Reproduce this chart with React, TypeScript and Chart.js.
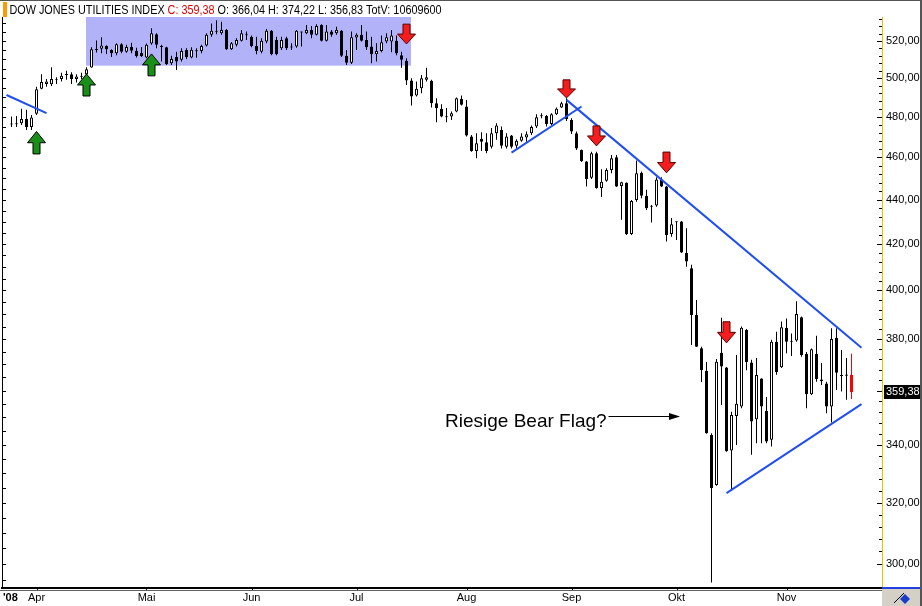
import React, { useEffect, useRef } from "react";
import { Chart, registerables } from "chart.js";

Chart.register(...registerables);

// daily candles, 25 Mar 2008 .. 20 Nov 2008
const opens = [
  476.2, 476.3, 476.8, 479.0, 474.9, 481.6, 494.5, 496.9, 496.8, 498.9,
  499.6, 501.6, 502.1, 499.5, 500.7, 502.1, 505.6, 515.0, 515.7, 517.2,
  515.0, 513.2, 518.1, 514.1, 516.7, 514.6, 513.4, 511.0, 518.6, 523.6,
  516.9, 516.5, 507.9, 511.3, 509.7, 515.0, 511.0, 514.4, 514.5, 517.4,
  523.3, 525.2, 524.2, 526.0, 515.4, 517.8, 520.0, 523.1, 522.3, 517.2,
  514.1, 519.6, 525.5, 520.5, 516.0, 521.4, 516.4, 516.9, 524.6, 524.2,
  526.0, 523.3, 528.7, 520.0, 525.1, 524.2, 525.5, 511.9, 508.2, 521.8,
  523.3, 520.5, 516.9, 512.7, 514.5, 519.6, 519.6, 520.0, 512.2, 509.2,
  498.7, 490.9, 494.7, 499.1, 498.6, 487.0, 484.1, 480.0, 480.2, 482.7,
  489.2, 485.3, 470.2, 463.1, 469.1, 467.4, 465.2, 471.9, 473.5, 465.2,
  470.7, 465.7, 468.1, 469.7, 471.9, 475.2, 480.4, 480.5, 476.4, 481.4,
  484.8, 487.0, 478.5, 471.9, 463.6, 458.0, 450.3, 462.0, 445.4, 448.9,
  454.0, 460.1, 446.4, 447.9, 424.4, 439.9, 452.7, 441.8, 436.7, 437.3,
  449.5, 446.1, 424.4, 429.7, 430.0, 416.0, 409.4, 389.8, 376.4, 367.5,
  343.6, 326.0, 374.6, 368.8, 338.0, 350.5, 354.0, 383.7, 370.8, 349.3,
  364.6, 352.3, 341.8, 379.0, 368.9, 384.6, 379.1, 379.4, 388.8, 374.1,
  358.6, 374.1, 363.5, 362.7, 354.0, 380.5, 365.6, 365.6, 366.04,
];
const highs = [
  480.2, 480.5, 484.1, 483.6, 481.0, 495.5, 502.0, 499.5, 505.7, 500.5,
  502.9, 503.9, 503.1, 502.0, 502.9, 505.7, 516.5, 520.2, 522.0, 517.6,
  515.4, 518.7, 518.7, 517.8, 519.0, 516.3, 516.7, 518.6, 526.9, 524.2,
  517.8, 516.8, 511.9, 514.1, 516.0, 516.0, 516.5, 516.0, 517.8, 524.2,
  529.6, 531.4, 530.5, 526.5, 519.4, 521.4, 526.0, 525.1, 522.9, 522.3,
  521.4, 526.5, 526.0, 522.3, 522.3, 522.3, 518.7, 526.0, 525.1, 528.7,
  528.2, 529.1, 529.1, 528.7, 526.0, 527.8, 526.0, 515.0, 525.2, 524.2,
  528.7, 525.1, 522.3, 518.7, 522.9, 524.2, 526.0, 522.9, 514.1, 510.6,
  499.9, 498.2, 501.7, 505.5, 499.1, 489.6, 486.5, 484.5, 482.7, 489.9,
  490.9, 488.7, 471.0, 471.9, 472.4, 471.9, 474.4, 476.8, 475.2, 471.9,
  471.0, 468.9, 471.9, 472.7, 475.7, 481.4, 481.9, 481.0, 481.9, 484.8,
  487.8, 489.6, 479.4, 472.7, 463.9, 458.3, 462.8, 462.8, 454.3, 454.8,
  461.2, 461.2, 448.4, 448.2, 439.9, 458.5, 453.2, 444.6, 437.6, 450.5,
  450.5, 446.4, 431.6, 430.0, 430.3, 427.0, 410.9, 396.0, 377.0, 371.0,
  344.2, 372.1, 388.6, 369.0, 352.1, 373.7, 385.1, 384.1, 371.8, 372.5,
  364.7, 357.6, 379.7, 383.0, 387.1, 388.3, 382.3, 395.4, 389.1, 374.9,
  376.3, 381.3, 370.6, 363.3, 384.4, 384.4, 375.7, 372.5, 374.22,
];
const lows = [
  474.9, 474.9, 476.0, 473.5, 473.5, 481.0, 494.2, 495.5, 495.9, 496.9,
  498.2, 499.1, 496.9, 497.7, 499.5, 501.7, 505.5, 513.7, 513.2, 512.8,
  511.3, 512.2, 513.2, 513.5, 513.2, 511.0, 511.2, 510.6, 517.8, 516.0,
  508.8, 507.0, 507.0, 504.3, 508.8, 510.2, 510.6, 510.9, 513.2, 516.9,
  522.3, 523.6, 523.3, 515.0, 515.0, 516.9, 519.6, 520.5, 516.5, 512.7,
  513.2, 518.7, 512.2, 512.2, 515.0, 515.0, 515.0, 516.3, 516.9, 523.6,
  521.4, 522.9, 519.6, 519.6, 522.3, 523.3, 511.3, 507.0, 507.5, 515.0,
  519.6, 515.0, 507.9, 508.8, 513.8, 518.7, 513.8, 512.2, 505.5, 496.4,
  485.8, 490.4, 492.1, 498.2, 484.8, 477.3, 479.9, 477.3, 478.5, 482.4,
  485.8, 470.2, 462.8, 459.6, 463.1, 462.0, 464.4, 468.6, 464.4, 464.4,
  464.4, 464.4, 467.7, 467.7, 471.0, 474.4, 479.4, 475.2, 476.0, 481.0,
  484.5, 478.0, 471.5, 463.6, 457.8, 446.1, 449.7, 445.1, 441.2, 448.4,
  452.4, 445.9, 430.8, 424.0, 424.0, 439.1, 440.7, 435.3, 429.6, 436.8,
  445.9, 421.1, 423.2, 421.8, 416.0, 410.1, 377.7, 376.9, 363.2, 344.0,
  294.2, 325.7, 354.6, 337.6, 324.0, 340.0, 353.4, 367.8, 336.5, 340.6,
  340.6, 340.6, 339.4, 366.0, 368.6, 374.4, 373.3, 379.0, 373.0, 353.4,
  358.3, 363.3, 362.1, 351.5, 348.1, 360.2, 359.6, 356.5, 356.83,
];
const closes = [
  476.6, 476.6, 479.0, 474.9, 479.7, 494.2, 498.0, 498.2, 499.5, 499.1,
  501.2, 501.8, 499.6, 500.8, 500.9, 504.7, 515.4, 515.4, 517.4, 515.4,
  513.2, 518.1, 514.1, 516.7, 514.6, 511.8, 511.8, 517.8, 524.2, 517.8,
  516.7, 507.4, 510.2, 508.8, 514.5, 511.3, 515.2, 514.6, 517.2, 523.3,
  525.6, 525.0, 526.0, 515.4, 518.7, 520.5, 524.2, 523.3, 517.2, 514.5,
  520.0, 525.6, 512.7, 512.7, 520.5, 516.0, 516.6, 525.6, 524.9, 526.0,
  523.3, 528.2, 520.0, 525.2, 523.3, 526.0, 511.9, 508.2, 522.0, 523.3,
  520.0, 516.5, 512.7, 514.5, 519.2, 522.0, 522.9, 513.2, 509.7, 498.7,
  490.4, 494.4, 499.9, 500.5, 487.0, 484.5, 480.2, 479.8, 481.9, 489.6,
  486.2, 470.7, 463.1, 466.9, 467.7, 463.1, 471.9, 475.7, 465.7, 470.2,
  465.2, 468.1, 470.2, 471.4, 474.9, 479.9, 480.6, 476.4, 481.4, 484.1,
  487.0, 479.0, 472.7, 464.4, 458.3, 449.7, 462.0, 445.4, 448.4, 454.0,
  459.6, 446.1, 448.1, 424.4, 439.4, 452.4, 441.8, 436.1, 436.9, 449.5,
  446.1, 424.0, 428.8, 429.9, 416.2, 412.3, 389.8, 377.0, 367.9, 344.2,
  324.9, 371.1, 369.2, 337.7, 350.9, 355.0, 384.6, 371.0, 348.5, 365.9,
  354.0, 341.2, 379.0, 367.1, 384.8, 379.0, 379.0, 390.2, 373.7, 358.6,
  376.0, 364.4, 364.2, 354.0, 380.0, 366.8, 365.5, 366.1, 359.38,
];
const totalVolume = "10609600";

// x axis: candle index of the first trading day of each month
const monthTicks = [5, 27, 48, 69, 91, 112, 133, 155];
const monthLabels = ["Apr", "Mai", "Jun", "Jul", "Aug", "Sep", "Okt", "Nov"];
const priceLabels = [300, 320, 340, 360, 380, 400, 420, 440, 460, 480, 500, 520];

// drawn-in analysis: [index, price] pairs
const trendLines = [
  [[-1, 491.2], [7, 481.9]],
  [[100, 462.3], [114, 485.3]],
  [[111, 488.7], [170, 376.6]],
  [[143, 323.2], [170, 354.9]],
];
const upArrows = [
  { i: 5, tip: 472.7, base: 461.7 },
  { i: 15, tip: 502.2, base: 490.7 },
  { i: 28, tip: 512.9, base: 501.2 },
];
const downArrows = [
  { i: 79, tip: 518.3, base: 529.2 },
  { i: 111, tip: 489.7, base: 499.1 },
  { i: 117, tip: 465.6, base: 475.5 },
  { i: 131, tip: 452.6, base: 462.6 },
  { i: 143, tip: 378.5, base: 387.0 },
];
const rangeBox = { from: 14.9, to: 79.9, low: 506.6, high: 533.2 };
const note = { text: "Riesige Bear Flag?", i: 86.7, price: 346.6, arrowFrom: 119.4, arrowTo: 133.7, arrowPrice: 350.4 };

const FONT = "'Liberation Sans', Arial, sans-serif";
const fmt = (v: number) => v.toFixed(2).replace(".", ",");

function arrow(ctx: CanvasRenderingContext2D, cx: number, yTip: number, yBase: number, fill: string, stroke: string) {
  const head = (yBase - yTip) / 2;
  ctx.beginPath();
  ctx.moveTo(cx, yTip);
  ctx.lineTo(cx + 9, yTip + head);
  ctx.lineTo(cx + 3.5, yTip + head);
  ctx.lineTo(cx + 3.5, yBase);
  ctx.lineTo(cx - 3.5, yBase);
  ctx.lineTo(cx - 3.5, yTip + head);
  ctx.lineTo(cx - 9, yTip + head);
  ctx.closePath();
  ctx.fillStyle = fill;
  ctx.fill();
  ctx.lineWidth = 1;
  ctx.strokeStyle = stroke;
  ctx.stroke();
}

const overlays = {
  id: "overlays",
  beforeDraw(chart: any) {
    const { ctx, width, height } = chart;
    ctx.save();
    ctx.fillStyle = "#ffffff";
    ctx.fillRect(0, 0, width, height);
    ctx.restore();
  },
  beforeDatasetsDraw(chart: any) {
    const { ctx, chartArea } = chart;
    const x = chart.scales.x;
    const y = chart.scales.y;
    ctx.save();
    ctx.fillStyle = "rgb(178,178,248)";
    const top = Math.max(chartArea.top, y.getPixelForValue(rangeBox.high));
    const x0 = x.getPixelForValue(rangeBox.from);
    const y1 = y.getPixelForValue(rangeBox.low);
    ctx.fillRect(x0, top, x.getPixelForValue(rangeBox.to) - x0, y1 - top);
    ctx.restore();
  },
  afterDatasetsDraw(chart: any) {
    const { ctx, chartArea } = chart;
    const x = chart.scales.x;
    const y = chart.scales.y;
    ctx.save();
    upArrows.forEach((a) =>
      arrow(ctx, x.getPixelForValue(a.i), y.getPixelForValue(a.tip), y.getPixelForValue(a.base), "#189018", "#000000")
    );
    downArrows.forEach((a) =>
      arrow(ctx, x.getPixelForValue(a.i), y.getPixelForValue(a.tip), y.getPixelForValue(a.base), "#f41c1c", "#5a0000")
    );

    // annotation
    ctx.fillStyle = "#000000";
    ctx.font = `19px ${FONT}`;
    ctx.textBaseline = "alphabetic";
    ctx.fillText(note.text, x.getPixelForValue(note.i), y.getPixelForValue(note.price));
    const ay = Math.round(y.getPixelForValue(note.arrowPrice)) + 0.5;
    const ax0 = x.getPixelForValue(note.arrowFrom);
    const ax1 = x.getPixelForValue(note.arrowTo);
    ctx.strokeStyle = "#000000";
    ctx.lineWidth = 1;
    ctx.beginPath();
    ctx.moveTo(ax0, ay);
    ctx.lineTo(ax1 - 4, ay);
    ctx.stroke();
    ctx.beginPath();
    ctx.moveTo(ax1, ay);
    ctx.lineTo(ax1 - 11, ay - 3.5);
    ctx.lineTo(ax1 - 11, ay + 3.5);
    ctx.closePath();
    ctx.fill();

    // tick marks drawn inward
    ctx.strokeStyle = "#000000";
    ctx.beginPath();
    for (let v = 300; v <= 532; v += 4) {
      const py = Math.round(y.getPixelForValue(v)) + 0.5;
      const len = v % 20 === 0 ? 5 : 3;
      ctx.moveTo(chartArea.right - len, py);
      ctx.lineTo(chartArea.right, py);
    }
    for (let v = 295; v <= 532; v += 5) {
      const py = Math.round(y.getPixelForValue(v)) + 0.5;
      ctx.moveTo(chartArea.left, py);
      ctx.lineTo(chartArea.left + 4, py);
    }
    monthTicks.forEach((m) => {
      const px = Math.round(x.getPixelForValue(m)) + 0.5;
      ctx.moveTo(px, chartArea.bottom);
      ctx.lineTo(px, chartArea.bottom + 3);
    });
    ctx.stroke();

    // left frame line
    ctx.beginPath();
    ctx.moveTo(chartArea.left + 0.5, chartArea.top);
    ctx.lineTo(chartArea.left + 0.5, chartArea.bottom);
    ctx.stroke();

    // second, thin rule under the time axis
    ctx.fillStyle = "#606060";
    ctx.fillRect(0, chartArea.bottom + 2, chartArea.right, 1);

    // last price tag
    const last = closes.length - 1;
    const py = y.getPixelForValue(closes[last]);
    ctx.fillStyle = "#000000";
    ctx.fillRect(chartArea.right + 2, Math.round(py) - 7, 36, 14);
    ctx.fillStyle = "#ffffff";
    ctx.font = `11px ${FONT}`;
    ctx.textBaseline = "middle";
    ctx.fillText(fmt(closes[last]), chartArea.right + 4, py);
    ctx.restore();
  },
  afterDraw(chart: any) {
    const { ctx, width, height, chartArea } = chart;
    const last = closes.length - 1;
    ctx.save();
    // title bar
    ctx.fillStyle = "#ff9a00";
    ctx.fillRect(3, 2, 4, 15);
    const parts: [string, string][] = [
      ["DOW JONES UTILITIES INDEX ", "#000000"],
      [`C: ${fmt(closes[last])} `, "#e00000"],
      [`O: ${fmt(opens[last])} H: ${fmt(highs[last])} L: ${fmt(lows[last])} TotV: ${totalVolume}`, "#000000"],
    ];
    ctx.font = `13px ${FONT}`;
    ctx.textBaseline = "alphabetic";
    const total = parts.reduce((s, p) => s + ctx.measureText(p[0]).width, 0);
    ctx.translate(9.5, 14);
    ctx.scale(432 / total, 1);
    let cx = 0;
    parts.forEach(([t, c]) => {
      ctx.fillStyle = c;
      ctx.fillText(t, cx, 0);
      cx += ctx.measureText(t).width;
    });
    ctx.setTransform(1, 0, 0, 1, 0, 0);

    // year marker before first month
    ctx.fillStyle = "#000000";
    ctx.font = `bold 11px ${FONT}`;
    ctx.textBaseline = "middle";
    ctx.fillText("'08", 3, chartArea.bottom + 10);

    // bottom-right corner box
    ctx.fillStyle = "#d4d0c8";
    ctx.fillRect(chartArea.right, chartArea.bottom + 1, width - chartArea.right, height - chartArea.bottom);
    ctx.fillStyle = "#2040e0";
    ctx.fillRect(chartArea.right, chartArea.bottom - 1, width - chartArea.right - 2, 2);
    ctx.strokeStyle = "#000000";
    ctx.beginPath();
    ctx.moveTo(chartArea.right + 12, height - 3);
    ctx.lineTo(chartArea.right + 22, chartArea.bottom + 5);
    ctx.stroke();
    ctx.fillStyle = "#1a3cc8";
    ctx.beginPath();
    ctx.moveTo(chartArea.right + 23, chartArea.bottom + 6);
    ctx.lineTo(chartArea.right + 28, chartArea.bottom + 11);
    ctx.lineTo(chartArea.right + 23, chartArea.bottom + 16);
    ctx.lineTo(chartArea.right + 18, chartArea.bottom + 11);
    ctx.closePath();
    ctx.fill();

    // outer frame
    ctx.fillStyle = "#555555";
    ctx.fillRect(0, 0, width, 1);
    ctx.fillRect(width - 2, 0, 2, height);
    ctx.restore();
  },
};

export default function App() {
  const canvasRef = useRef<HTMLCanvasElement>(null);

  useEffect(() => {
    document.body.style.margin = "0";
    if (!canvasRef.current) return;
    const last = closes.length - 1;
    const idx = closes.map((_, i) => i);
    const fills = closes.map((c, i) =>
      i === last ? "#ff0000" : Math.abs(c - opens[i]) < 0.5 ? "#000000" : c > opens[i] ? "#ffffff" : "#000000"
    );
    const edges = closes.map((_, i) => (i === last ? "#ff0000" : "#000000"));

    const chart = new Chart(canvasRef.current, {
      type: "bar",
      data: {
        datasets: [
          ...trendLines.map((seg) => ({
            type: "line",
            data: seg.map(([px, pv]) => ({ x: px, y: pv })),
            borderColor: "#1f4ff2",
            borderWidth: 2,
            pointRadius: 0,
            tension: 0,
            order: 0,
          })),
          {
            type: "bar",
            data: idx.map((i) => ({ x: i, y: [opens[i], closes[i]] })),
            backgroundColor: fills,
            borderColor: edges,
            borderWidth: 1,
            borderSkipped: false,
            barThickness: 3,
            maxBarThickness: 3,
            minBarLength: 1,
            grouped: false,
            inflateAmount: 0,
            order: 1,
          },
          {
            type: "bar",
            data: idx.map((i) => ({ x: i, y: [lows[i], highs[i]] })),
            backgroundColor: edges,
            borderWidth: 0,
            barThickness: 1,
            maxBarThickness: 1,
            grouped: false,
            inflateAmount: 0,
            order: 2,
          },
        ],
      } as any,
      options: {
        animation: false,
        responsive: true,
        maintainAspectRatio: false,
        devicePixelRatio: 1,
        layout: { padding: { top: 17, left: 2, right: 0, bottom: 0 } },
        plugins: { legend: { display: false }, tooltip: { enabled: false } },
        scales: {
          x: {
            type: "linear",
            min: -1.9,
            max: 174.1,
            offset: false,
            afterBuildTicks: (s: any) => {
              s.ticks = monthTicks.map((v) => ({ value: v }));
            },
            afterFit: (s: any) => {
              s.height = 18;
            },
            grid: { display: false, drawTicks: false },
            border: { display: true, color: "#000000", width: 2 },
            ticks: {
              autoSkip: false,
              maxRotation: 0,
              padding: 3,
              color: "#000000",
              font: { family: FONT, size: 11 },
              callback: (_v: any, i: number) => monthLabels[i],
            },
          },
          y: {
            type: "logarithmic",
            position: "right",
            min: 292.5,
            max: 533.2,
            afterBuildTicks: (s: any) => {
              s.ticks = priceLabels.map((v) => ({ value: v }));
            },
            afterFit: (s: any) => {
              s.width = 40;
            },
            grid: { display: false, drawTicks: false },
            border: { display: true, color: "#e8c200", width: 1 },
            ticks: {
              autoSkip: false,
              padding: 4,
              color: "#000000",
              font: { family: FONT, size: 11 },
              callback: (v: any) => fmt(Number(v)),
            },
          },
        },
      } as any,
      plugins: [overlays],
    });

    return () => {
      chart.destroy();
    };
  }, []);

  return (
    <div style={{ width: 922, height: 606, position: "relative" }}>
      <canvas ref={canvasRef} />
    </div>
  );
}
